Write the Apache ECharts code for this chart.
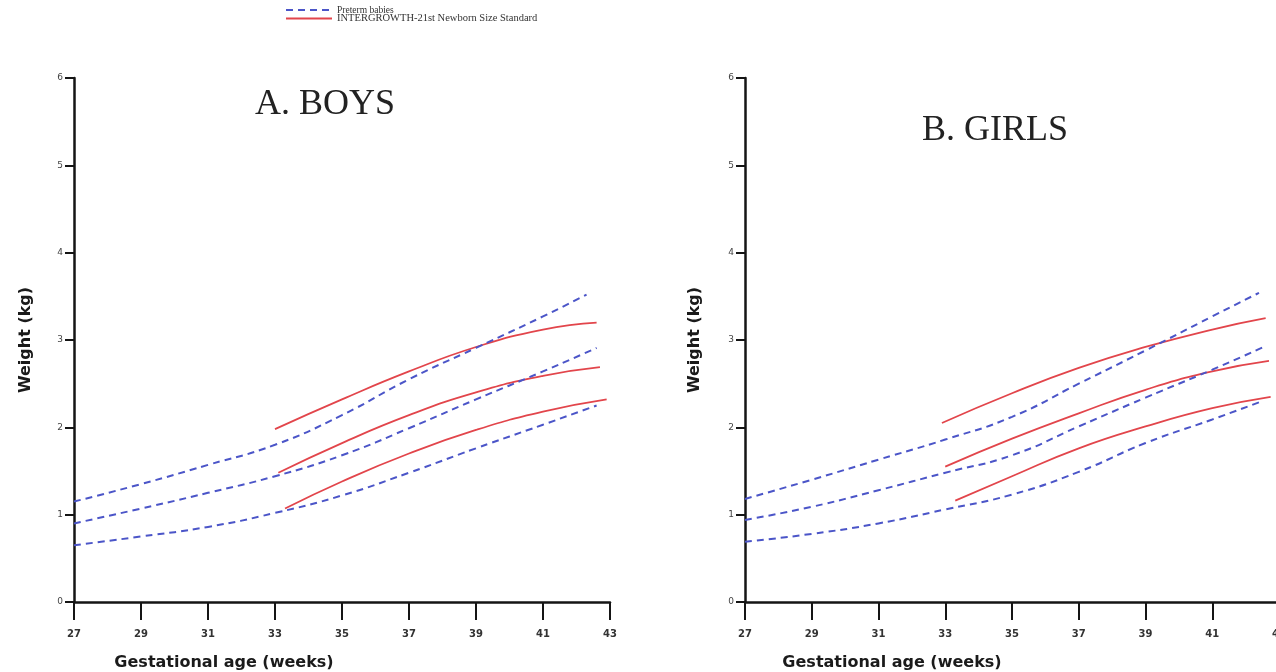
<!DOCTYPE html>
<html>
<head>
<meta charset="utf-8">
<script src="https://cdn.jsdelivr.net/npm/echarts@6/dist/echarts.min.js"></script>
<style>
html,body{margin:0;padding:0;background:#fff;}
#chart{width:1276px;height:672px;}
</style>
</head>
<body>
<div id="chart"></div>
<script>
// ---- Data (weeks, kg) ----
const xTicks = [27, 29, 31, 33, 35, 37, 39, 41, 43];
const yTicks = [0, 1, 2, 3, 4, 5, 6];
const panelTitles = ['A. BOYS', 'B. GIRLS'];
const legendNames = ['Preterm babies', 'INTERGROWTH-21st Newborn Size Standard'];

const boysPretermUpper  = [[27,1.15],[29,1.35],[31,1.57],[33,1.80],[35,2.14],[37,2.55],[39,2.91],[41,3.27],[42.3,3.52]];
const boysPretermMiddle = [[27,0.90],[29,1.07],[31,1.25],[33,1.44],[35,1.68],[37,1.99],[39,2.32],[41,2.64],[42.6,2.91]];
const boysPretermLower  = [[27,0.65],[29,0.75],[31,0.86],[33,1.02],[35,1.22],[37,1.48],[39,1.76],[41,2.03],[42.6,2.25]];
const boysIGUpper  = [[33,1.98],[35,2.32],[37,2.64],[39,2.92],[41,3.12],[42.6,3.20]];
const boysIGMiddle = [[33.1,1.48],[35,1.82],[37,2.14],[39,2.40],[41,2.59],[42.7,2.69]];
const boysIGLower  = [[33.3,1.07],[35,1.38],[37,1.70],[39,1.97],[41,2.18],[42.9,2.32]];

const girlsPretermUpper  = [[27,1.18],[29,1.40],[31,1.63],[33,1.86],[35,2.12],[37,2.50],[39,2.88],[41,3.27],[42.4,3.54]];
const girlsPretermMiddle = [[27,0.94],[29,1.09],[31,1.28],[33,1.48],[35,1.68],[37,2.01],[39,2.34],[41,2.66],[42.6,2.93]];
const girlsPretermLower  = [[27,0.69],[29,0.78],[31,0.90],[33,1.06],[35,1.23],[37,1.49],[39,1.82],[41,2.09],[42.5,2.30]];
const girlsIGUpper  = [[32.9,2.05],[35,2.39],[37,2.68],[39,2.92],[41,3.12],[42.6,3.25]];
const girlsIGMiddle = [[33,1.55],[35,1.87],[37,2.16],[39,2.43],[41,2.64],[42.7,2.76]];
const girlsIGLower  = [[33.3,1.16],[35,1.44],[37,1.76],[39,2.01],[41,2.22],[42.75,2.35]];

// ---- Styles ----
const BLUE = '#4b55c8';
const RED = '#e2454b';
const AXIS = '#151515';
const labelFont = 'DejaVu Sans';

function pretermSeries(data, idx) {
  return {
    name: legendNames[0], type: 'line', xAxisIndex: idx, yAxisIndex: idx,
    data: data, smooth: true, symbol: 'circle', symbolSize: 0, showSymbol: false, z: 3,
    lineStyle: { color: BLUE, width: 2, type: [7, 5] },
    itemStyle: { color: BLUE }
  };
}
function igSeries(data, idx) {
  return {
    name: legendNames[1], type: 'line', xAxisIndex: idx, yAxisIndex: idx,
    data: data, smooth: true, symbol: 'circle', symbolSize: 0, showSymbol: false, z: 2,
    lineStyle: { color: RED, width: 1.8, type: 'solid' },
    itemStyle: { color: RED }
  };
}
function xAxisDef(idx, padRight) {
  return {
    type: 'value', gridIndex: idx, min: xTicks[0], max: xTicks[xTicks.length - 1], interval: 2,
    axisLine: { show: true, onZero: false, lineStyle: { color: AXIS, width: 2.5 } },
    axisTick: { show: true, length: 18, lineStyle: { color: AXIS, width: 2 } },
    axisLabel: { margin: 27, fontSize: 10, color: '#333', fontFamily: labelFont, fontWeight: 'bold' },
    splitLine: { show: false },
    name: 'Gestational age (weeks)', nameLocation: 'middle', nameGap: 53,
    nameTextStyle: { fontSize: 16, fontWeight: 'bold', color: '#1a1a1a', fontFamily: 'DejaVu Sans', padding: [0, padRight, 0, 0] }
  };
}
function yAxisDef(idx, gap) {
  return {
    type: 'value', gridIndex: idx, min: yTicks[0], max: yTicks[yTicks.length - 1], interval: 1,
    axisLine: { show: true, lineStyle: { color: AXIS, width: 2.5 } },
    axisTick: { show: true, length: 9, lineStyle: { color: AXIS, width: 2 } },
    axisLabel: { margin: 11, fontSize: 9, color: '#444', fontFamily: labelFont },
    splitLine: { show: false },
    name: 'Weight (kg)', nameLocation: 'middle', nameGap: gap,
    nameTextStyle: { fontSize: 16, fontWeight: 'bold', color: '#1a1a1a', fontFamily: 'DejaVu Sans' }
  };
}
function legendDef(name, top, size) {
  return {
    orient: 'horizontal', left: 285, top: top, itemWidth: 46, itemHeight: 8, padding: 0,
    selectedMode: false,
    itemStyle: { opacity: 0, borderWidth: 0 },
    data: [{ name: name }],
    textStyle: { fontSize: size, color: '#333', fontFamily: 'Liberation Serif', padding: [0, 0, 0, 0] }
  };
}

const option = {
  animation: false,
  backgroundColor: '#fff',
  title: [
    { text: panelTitles[0], left: 320, top: 82, textAlign: 'center',
      textStyle: { fontFamily: 'Liberation Serif', fontWeight: 'normal', fontSize: 36, color: '#222' } },
    { text: panelTitles[1], left: 990, top: 108, textAlign: 'center',
      textStyle: { fontFamily: 'Liberation Serif', fontWeight: 'normal', fontSize: 36, color: '#222' } }
  ],
  legend: [
    legendDef(legendNames[0], 5, 9.5),
    legendDef(legendNames[1], 13, 10.5)
  ],
  grid: [
    { left: 74, top: 78, width: 536, bottom: 70, outerBoundsMode: 'none', containLabel: false },
    { left: 745, top: 78, width: 534, bottom: 70, outerBoundsMode: 'none', containLabel: false }
  ],
  xAxis: [xAxisDef(0, 236), xAxisDef(1, 240)],
  yAxis: [yAxisDef(0, 40), yAxisDef(1, 42)],
  series: [
    pretermSeries(boysPretermUpper, 0), pretermSeries(boysPretermMiddle, 0), pretermSeries(boysPretermLower, 0),
    igSeries(boysIGUpper, 0), igSeries(boysIGMiddle, 0), igSeries(boysIGLower, 0),
    pretermSeries(girlsPretermUpper, 1), pretermSeries(girlsPretermMiddle, 1), pretermSeries(girlsPretermLower, 1),
    igSeries(girlsIGUpper, 1), igSeries(girlsIGMiddle, 1), igSeries(girlsIGLower, 1)
  ]
};

const chart = echarts.init(document.getElementById('chart'), null, { renderer: 'canvas' });
chart.setOption(option);
</script>
</body>
</html>
